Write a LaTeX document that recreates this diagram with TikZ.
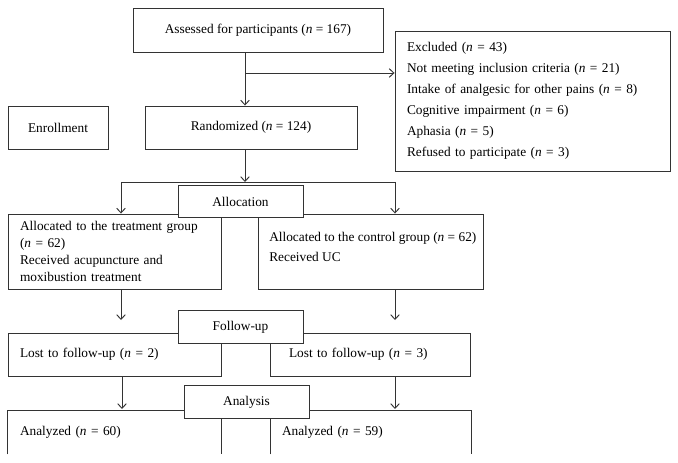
\documentclass[tikz,border=0pt]{standalone}
\usepackage{fontspec}
\setmainfont{Liberation Serif}
\usetikzlibrary{arrows.meta}
\begin{document}
\begin{tikzpicture}[x=0.75pt,y=-0.75pt,
  line/.style={draw=black!80,line width=0.7pt},
  arr/.style={line,-{Straight Barb[length=3.5pt,width=6.5pt]}},
  box/.style={line,rectangle,inner sep=0pt,font=\fontsize{10}{12.75}\selectfont},
  lbox/.style={box,align=left,inner xsep=9pt},
  head/.style={box,fill=white,minimum width=93.75pt,minimum height=24.5pt},
  txt/.style={inner sep=0pt,align=left,font=\fontsize{10}{12.75}\selectfont}]
\useasboundingbox (0,0) rectangle (678,463);
% big boxes
\node[box,minimum width=187.5pt,minimum height=33pt] (assess) at (258,30) {Assessed for participants (\textit{n} = 167)};
\node[lbox,text width=188.25pt,minimum height=105pt,font=\fontsize{10}{15.75}\selectfont] (excl) at (532.5,101)
 {Excluded (\textit{n} = 43)\\Not meeting inclusion criteria (\textit{n} = 21)\\Intake of analgesic for other pains (\textit{n} = 8)\\Cognitive impairment (\textit{n} = 6)\\Aphasia (\textit{n} = 5)\\Refused to participate (\textit{n} = 3)};
\node[box,minimum width=75pt,minimum height=32.25pt] (enrol) at (58,127.5) {Enrollment};
\node[box,minimum width=159pt,minimum height=32.25pt] (rand) at (251,127.5) {Randomized (\textit{n} = 124)};
\node[lbox,text width=141.75pt,minimum height=56.25pt] (treat) at (114.5,251.5)
 {Allocated to the treatment group\\(\textit{n} = 62)\\Received acupuncture and\\moxibustion treatment};
\node[box,minimum width=168.75pt,minimum height=56.25pt] (ctrl) at (370.5,251.5) {};
\node[txt,anchor=west,font=\fontsize{10}{14.6}\selectfont] (ctrltext) at (269,247)
 {Allocated to the control group (\textit{n} = 62)\\Received UC};
\node[lbox,text width=141.75pt,minimum height=32.25pt] (lostL) at (114.5,354.5) {Lost to follow-up (\textit{n} = 2)};
\node[lbox,inner xsep=14.25pt,text width=121.5pt,minimum height=32.25pt] (lostR) at (370,354.5) {Lost to follow-up (\textit{n} = 3)};
\node[lbox,draw=none,text width=141.75pt,minimum height=32.25pt] (anL) at (114.5,432.5) {Analyzed (\textit{n} = 60)};
\node[lbox,draw=none,inner xsep=8.25pt,text width=133.5pt,minimum height=32.25pt] (anR) at (371,432.5) {Analyzed (\textit{n} = 59)};
\draw[line] (anL.south west) -- (anL.north west) -- (anL.north east) -- (anL.south east);
\draw[line] (anR.south west) -- (anR.north west) -- (anR.north east) -- (anR.south east);
% stage headers
\node[head] (alloc) at (240.5,201.5) {Allocation};
\node[head] (follow) at (240.5,327) {Follow-up};
\node[head] (analysis) at (246.5,402) {Analysis};
% junction coordinates
\coordinate (jA) at (245,73);
\coordinate (jB) at (245,182);
\coordinate (lx) at (121,182);
\coordinate (rx) at (395,182);
\coordinate (ta) at (121,320);
\coordinate (tb) at (395,320);
\coordinate (ua) at (122,409);
\coordinate (ub) at (395,409);
% connectors
\draw[arr] (assess.south -| jA) -- (rand.north -| jA);
\draw[arr] (jA) -- (excl.west |- jA);
\draw[arr] (rand.south -| jB) -- (jB);
\draw[line] (lx) -- (rx);
\draw[arr] (lx) -- (treat.north -| lx);
\draw[arr] (rx) -- (ctrl.north -| rx);
\draw[arr] (treat.south -| ta) -- (ta);
\draw[arr] (ctrl.south -| tb) -- (tb);
\draw[arr] (lostL.south -| ua) -- (ua);
\draw[arr] (lostR.south -| ub) -- (ub);
\end{tikzpicture}
\end{document}
